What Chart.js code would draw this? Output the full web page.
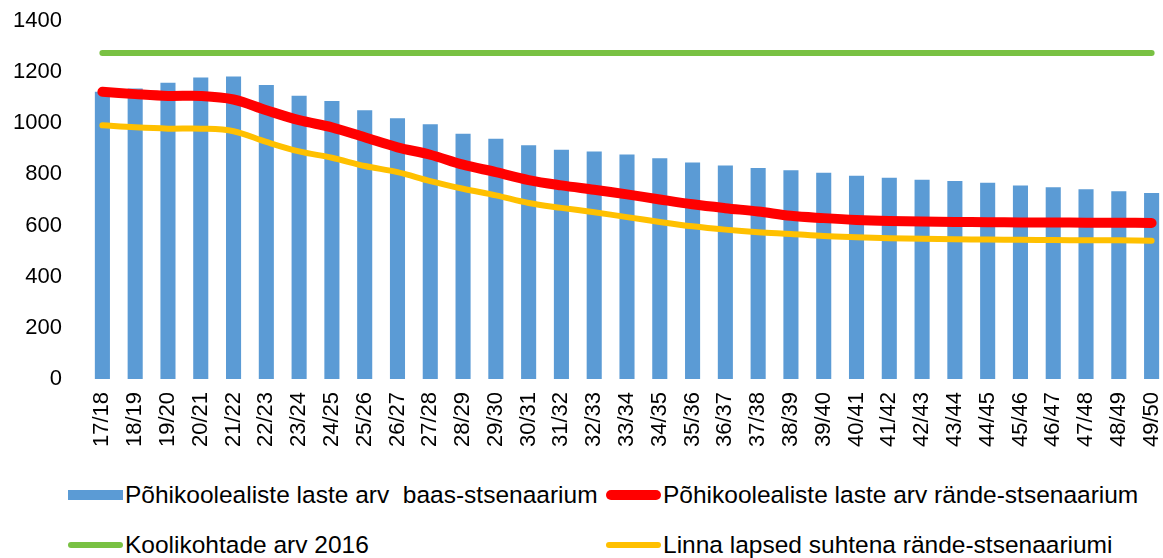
<!DOCTYPE html>
<html>
<head>
<meta charset="utf-8">
<script src="https://cdn.jsdelivr.net/npm/chart.js"></script>
<style>
body { margin: 0; width: 1163px; height: 558px; overflow: hidden; background: #fff; font-family: "Liberation Sans", Arial, sans-serif; }
#wrap { position: absolute; left: 0; top: 0; width: 1191px; height: 460px; }
.leg { position: absolute; font-size: 24.5px; line-height: 28px; color: #000; white-space: pre; }
.mark { position: absolute; }
</style>
</head>
<body>
<div id="wrap"><canvas id="myChart"></canvas></div>
<div id="legend"></div>
<script>
const labels = ['17/18','18/19','19/20','20/21','21/22','22/23','23/24','24/25','25/26','26/27','27/28',
  '28/29','29/30','30/31','31/32','32/33','33/34','34/35','35/36','36/37','37/38','38/39',
  '39/40','40/41','41/42','42/43','43/44','44/45','45/46','46/47','47/48','48/49','49/50'];

const baasStsenaarium = [1123,1136,1158,1179,1183,1150,1108,1087,1051,1020,996,959,939,914,896,890,
  878,863,847,835,825,816,806,795,787,779,774,767,757,750,742,734,727];

const randeStsenaarium = [1123,1114,1107,1107,1093,1051,1012,984,945,906,877,838,809,778,757,740,
  722,702,683,668,655,638,629,622,618,616,614,613,612,612,611,611,610];

const koolikohad2016 = [1275,1275,1275,1275,1275,1275,1275,1275,1275,1275,1275,1275,1275,1275,1275,1275,
  1275,1275,1275,1275,1275,1275,1275,1275,1275,1275,1275,1275,1275,1275,1275,1275,1275];

const linnaLapsed = [992,984,979,979,969,927,890,865,833,809,774,744,718,688,669,652,
  633,614,597,584,574,567,559,554,550,548,546,545,544,543,542,542,541];

const yTicks = [0, 200, 400, 600, 800, 1000, 1200, 1400];

const tickFont = { family: 'Liberation Sans', size: 22 };

const ctx = document.getElementById('myChart').getContext('2d');
const myChart = new Chart(ctx, {
    data: {
        labels: labels,
        datasets: [
            {
                type: 'line',
                label: 'Koolikohtade arv 2016',
                data: koolikohad2016,
                borderColor: '#79c143',
                borderWidth: 6,
                pointRadius: 0,
                borderCapStyle: 'round',
                order: 0
            },
            {
                type: 'line',
                label: 'Põhikoolealiste laste arv rände-stsenaarium',
                data: randeStsenaarium,
                borderColor: '#ff0000',
                borderWidth: 10,
                pointRadius: 0,
                tension: 0.35,
                borderCapStyle: 'round',
                order: 1
            },
            {
                type: 'line',
                label: 'Linna lapsed suhtena rände-stsenaariumi',
                data: linnaLapsed,
                borderColor: '#ffc000',
                borderWidth: 6,
                pointRadius: 0,
                tension: 0.35,
                borderCapStyle: 'round',
                order: 2
            },
            {
                type: 'bar',
                label: 'Põhikoolealiste laste arv  baas-stsenaarium',
                data: baasStsenaarium,
                backgroundColor: '#5b9bd5',
                barPercentage: 0.46,
                categoryPercentage: 1,
                order: 5
            }
        ]
    },
    options: {
        responsive: true,
        maintainAspectRatio: false,
        animation: false,
        layout: { padding: { top: 21, left: 0, right: 0, bottom: 0 } },
        plugins: {
            legend: { display: false },
            tooltip: { enabled: false }
        },
        scales: {
            x: {
                grid: { display: false, drawTicks: false },
                border: { display: false },
                ticks: {
                    autoSkip: false,
                    minRotation: 90,
                    maxRotation: 90,
                    padding: 13,
                    color: '#000',
                    font: tickFont
                }
            },
            y: {
                min: 0,
                max: 1400,
                afterBuildTicks: (scale) => { scale.ticks = yTicks.map(v => ({ value: v })); },
                afterFit: (scale) => {
                    scale.width = 86;
                    scale.paddingTop = 0; // tick padding would otherwise push the plot down
                },
                grid: { display: false, drawTicks: false },
                border: { display: false },
                ticks: {
                    padding: 24,
                    color: '#000',
                    font: tickFont,
                    callback: (v) => String(v)
                }
            }
        }
    }
});

// legend laid out in two columns like the original
const legendPos = [
    { ds: 3, x: 68, y: 495, kind: 'box' },
    { ds: 1, x: 606, y: 495, kind: 'line' },
    { ds: 0, x: 68, y: 545, kind: 'line' },
    { ds: 2, x: 606, y: 545, kind: 'line' }
];
const legendEl = document.getElementById('legend');
legendPos.forEach(p => {
    const d = myChart.data.datasets[p.ds];
    const m = document.createElement('div');
    m.className = 'mark';
    const h = p.kind === 'box' ? 10 : d.borderWidth;
    m.style.left = p.x + 'px';
    m.style.top = (p.y - h / 2) + 'px';
    m.style.width = '55px';
    m.style.height = h + 'px';
    m.style.background = p.kind === 'box' ? d.backgroundColor : d.borderColor;
    if (p.kind === 'line') m.style.borderRadius = (h / 2) + 'px';
    legendEl.appendChild(m);
    const t = document.createElement('div');
    t.className = 'leg';
    t.style.left = (p.x + 57) + 'px';
    t.style.top = (p.y - 14) + 'px';
    t.textContent = d.label;
    legendEl.appendChild(t);
});
</script>
</body>
</html>
